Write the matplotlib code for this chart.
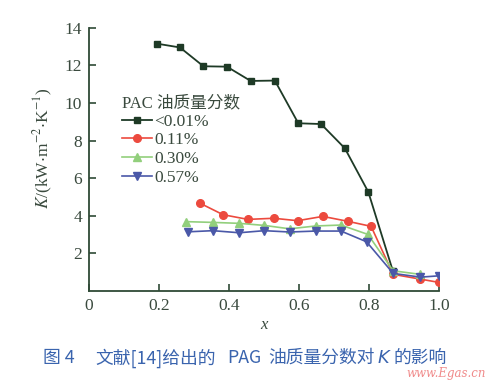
import matplotlib
matplotlib.use("Agg")
import matplotlib.pyplot as plt

x_001 = [0.195, 0.26, 0.327, 0.394, 0.462, 0.531, 0.598, 0.663, 0.731, 0.798, 0.868]
k_001 = [13.15, 12.95, 11.95, 11.93, 11.17, 11.19, 8.92, 8.88, 7.59, 5.27, 1.08]

x_011 = [0.316, 0.383, 0.454, 0.528, 0.596, 0.668, 0.739, 0.806, 0.869, 0.945, 1.0]
k_011 = [4.68, 4.06, 3.81, 3.87, 3.74, 3.97, 3.71, 3.44, 0.89, 0.64, 0.46]

x_030 = [0.278, 0.354, 0.429, 0.501, 0.573, 0.648, 0.72, 0.797, 0.869, 0.945]
k_030 = [3.69, 3.65, 3.60, 3.49, 3.31, 3.46, 3.51, 3.01, 1.08, 0.89]

x_057 = [0.283, 0.354, 0.429, 0.501, 0.573, 0.648, 0.72, 0.793, 0.869, 0.947, 1.0]
k_057 = [3.15, 3.21, 3.10, 3.21, 3.14, 3.19, 3.19, 2.62, 0.94, 0.74, 0.81]

labels = ["<0.01%", "0.11%", "0.30%", "0.57%"]
xticks = [0, 0.2, 0.4, 0.6, 0.8, 1.0]
xtick_labels = ["0", "0.2", "0.4", "0.6", "0.8", "1.0"]
yticks = [2, 4, 6, 8, 10, 12, 14]

plt.rcParams["mathtext.fontset"] = "stix"
serif = ["Liberation Serif", "Noto Sans CJK SC", "DejaVu Sans"]
axcol = "#2f4a36"
txtcol = "#3a4a3e"

fig = plt.figure(figsize=(5, 3.85), dpi=100)
ax = fig.add_axes([0.178, 0.244, 0.7, 0.684])

ax.plot(x_001, k_001, color="#1e3a26", marker="s", ms=5, lw=1.3, label=labels[0])
ax.plot(x_011, k_011, color="#ec4a3e", marker="o", ms=5.5, lw=1.2, label=labels[1])
ax.plot(x_030, k_030, color="#92cf7c", marker="^", ms=6, lw=1.2, label=labels[2])
ax.plot(x_057, k_057, color="#4a58a8", marker="v", ms=6, lw=1.2, label=labels[3])

ax.set_xlim(0, 1.0)
ax.set_ylim(0, 14)
for s in ["top", "right"]:
    ax.spines[s].set_visible(False)
for s in ["left", "bottom"]:
    ax.spines[s].set_color(axcol)
    ax.spines[s].set_linewidth(1.3)
ax.set_xticks(xticks)
ax.set_xticklabels(xtick_labels)
ax.set_yticks(yticks)
ax.tick_params(direction="in", length=5, width=1.2, color=axcol, labelcolor=txtcol,
               labelsize=12.5, pad=5)
for t in ax.get_xticklabels() + ax.get_yticklabels():
    t.set_family(serif)

ax.set_xlabel("x", family=serif, style="italic", fontsize=12, color=txtcol, labelpad=2)
ax.set_ylabel(r"$K$/(kW$\cdot$m$^{-2}$$\cdot$K$^{-1}$)", family=serif, fontsize=12.5,
              color=txtcol)
ax.yaxis.set_label_coords(-0.097, 0.543)

leg = ax.legend(title="PAC 油质量分数", loc="upper left", bbox_to_anchor=(0.095, 0.745),
                frameon=False, prop={"family": serif, "size": 12.5},
                handlelength=1.7, handletextpad=0.15, labelspacing=0.15,
                borderpad=0.0, borderaxespad=0.0)
leg.get_title().set_fontfamily(serif)
leg.get_title().set_fontsize(12)
leg.get_title().set_color(txtcol)
leg._legend_box.align = "left"
for t in leg.get_texts():
    t.set_color(txtcol)

capcol = "#3a64ae"
cap = ["Noto Sans CJK SC", "DejaVu Sans"]
cy = 1 - 358 / 385
pieces = [(43, "图 4", cap, "normal"), (95, "文献[14]给出的", cap, "normal"),
          (227, "PAG", cap, "normal"), (268, "油质量分数对", cap, "normal"),
          (378, "K", ["DejaVu Sans"], "italic"), (393, "的影响", cap, "normal")]
for px, s, fam, st in pieces:
    fig.text(px / 500, cy, s, ha="left", va="center", family=fam, style=st,
             fontsize=12.8, color=capcol)
fig.text(446 / 500, 1 - 373 / 385, "www.Egas.cn", ha="center", va="center",
         family="DejaVu Serif", style="italic", fontsize=8.5, color="#f08a8a")

fig.savefig("out.png", dpi=100)
